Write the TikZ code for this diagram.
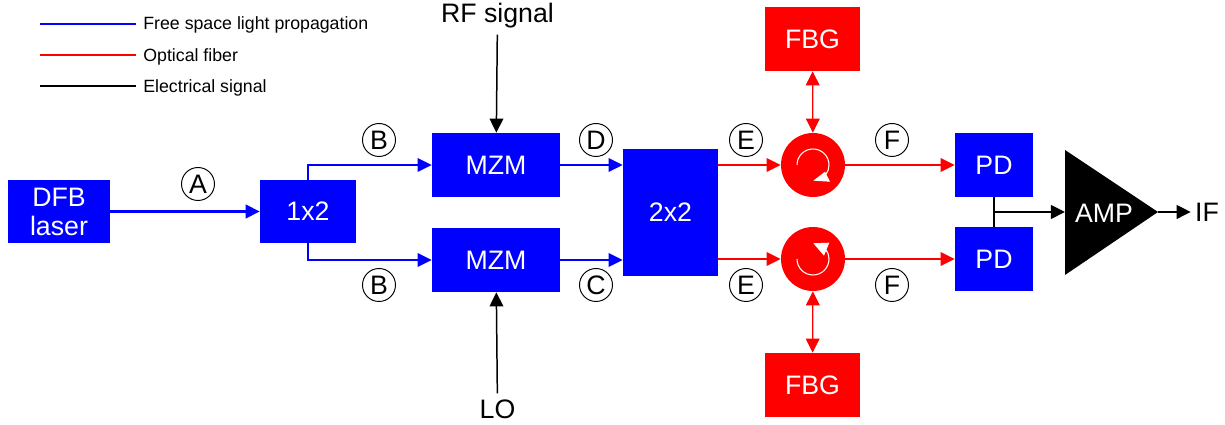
\documentclass[tikz,border=0pt]{standalone}
\usepackage{fontspec}
\setmainfont{Liberation Sans}
\usetikzlibrary{arrows.meta}

\tikzset{
    bigtext/.style={font=\fontsize{15.2pt}{17pt}\selectfont},
    legendtext/.style={font=\fontsize{10.1pt}{12pt}\selectfont, anchor=west, inner sep=0pt},
    bluebox/.style={fill=blue, text=white, bigtext, inner sep=0pt, align=center},
    redbox/.style={fill=red, text=white, bigtext, inner sep=0pt, minimum width=1.9cm, minimum height=1.28cm},
    mzmbox/.style={bluebox, minimum width=2.56cm, minimum height=1.28cm},
    pdbox/.style={bluebox, minimum width=1.56cm, minimum height=1.28cm},
    circulator/.style={circle, fill=red, inner sep=0pt, minimum size=1.28cm},
    marker/.style={circle, draw, line width=0.55pt, inner sep=0pt, minimum size=0.66cm, bigtext},
    tip/.tip={Triangle[length=8pt, width=7.8pt]},
    freespace/.style={blue, line width=0.75pt, -tip},
    fiber/.style={red, line width=0.75pt, -tip},
    electrical/.style={black, line width=0.85pt, -tip},
}

\begin{document}
\begin{tikzpicture}[x=0.02cm, y=0.02cm]
    \useasboundingbox (0,0) rectangle (1225,425);

    % legend
    \coordinate (freeA) at (40,401);
    \coordinate (freeB) at (136,401);
    \coordinate (fiberA) at (40,370);
    \coordinate (fiberB) at (136,370);
    \coordinate (elecA) at (40,339);
    \coordinate (elecB) at (136,339);
    \draw[blue, line width=0.65pt] (freeA) -- (freeB);
    \draw[red, line width=0.65pt] (fiberA) -- (fiberB);
    \draw[black, line width=0.65pt] (elecA) -- (elecB);
    \node[legendtext] (freetext) at (143,400) {Free space light propagation};
    \node[legendtext] (fibertext) at (143,368) {Optical fiber};
    \node[legendtext] (electext) at (143,337) {Electrical signal};

    % blue blocks
    \node[bluebox, minimum width=2.04cm, minimum height=1.26cm] (laser) at (59,213.5) {DFB\\[-0.5pt]laser};
    \node[bluebox, minimum width=1.92cm, minimum height=1.26cm] (splitter) at (308,213.5) {1x2};
    \node[mzmbox] (mzmtop) at (496,260) {MZM};
    \node[mzmbox] (mzmbot) at (496,165) {MZM};
    \node[bluebox, minimum width=1.9cm, minimum height=2.54cm] (coupler) at (670.5,212.5) {2x2};
    \node[pdbox] (pdtop) at (994,260) {PD};
    \node[pdbox] (pdbot) at (994,165.5) {PD};

    % red blocks
    \node[redbox] (fbgtop) at (812.5,386) {FBG};
    \node[redbox] (fbgbot) at (812.5,40) {FBG};
    \node[circulator] (circtop) at (813,260) {};
    \node[circulator] (circbot) at (813,166) {};
    \draw[white, line width=0.6pt] (797,260) arc (180:-35:16);
    \fill[white] (813.3,244.3) -- ++(16.7,-1) -- ++(-5,10) -- cycle;
    \draw[white, line width=0.6pt] (797,166) arc (180:395:16);
    \fill[white] (813.3,181.7) -- ++(16,0.6) -- ++(-5.3,-13) -- cycle;

    % amplifier
    \coordinate (ampin) at (1065,213);
    \coordinate (ampout) at (1158,213);
    \fill (ampin |- 0,275) -- (ampout) -- (ampin |- 0,150) -- cycle;
    \node[text=white, bigtext] (amplabel) at (1104,212) {AMP};

    % plain texts
    \node[bigtext] (rf) at (497.5,409) {RF signal};
    \node[bigtext] (lo) at (497.5,16) {LO};
    \node[bigtext, inner sep=0pt, outer sep=2.5pt] (ifout) at (1207,213) {IF};

    % connectors
    \draw[freespace, line width=1.3pt] (laser) -- (splitter);
    \draw[freespace] (splitter.north) |- (mzmtop.west);
    \draw[freespace] (splitter.south) |- (mzmbot.west);
    \draw[freespace] (mzmtop.east) -- (coupler.west |- mzmtop);
    \draw[freespace] (mzmbot.east) -- (coupler.west |- mzmbot);
    \draw[fiber] (coupler.east |- circtop) -- (circtop);
    \draw[fiber] (coupler.east |- circbot) -- (circbot);
    \draw[fiber] (circtop) -- (pdtop);
    \draw[fiber] (circbot) -- (pdbot.west |- circbot);
    \draw[fiber, tip-tip] (fbgtop) -- (circtop);
    \draw[fiber, tip-tip] (fbgbot) -- (circbot);
    \draw[electrical] (rf) -- (mzmtop);
    \draw[electrical] (lo) -- (mzmbot);
    \draw[black, line width=0.85pt] (pdtop) -- (pdbot);
    \draw[electrical] (pdtop.south |- ampin) -- (ampin);
    \draw[electrical] (ampout) -- (ifout);

    % signal markers
    \node[marker] (markA) at (198,241) {A};
    \node[marker] (markBt) at (379,285) {B};
    \node[marker] (markBb) at (379,140) {B};
    \node[marker] (markD) at (596,285) {D};
    \node[marker] (markC) at (596,140) {C};
    \node[marker] (markEt) at (746,285) {E};
    \node[marker] (markEb) at (746,140) {E};
    \node[marker] (markFt) at (892,285) {F};
    \node[marker] (markFb) at (892,140) {F};
\end{tikzpicture}
\end{document}
